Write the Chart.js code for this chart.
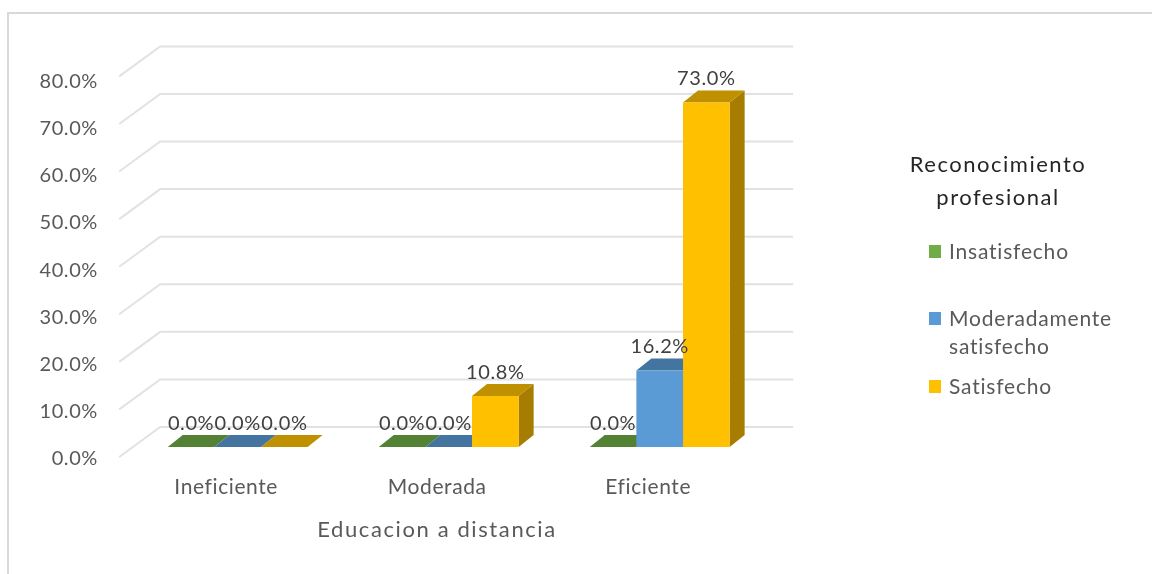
<!DOCTYPE html>
<html>
<head>
<meta charset="utf-8">
<style>
  html, body { margin: 0; padding: 0; background: #fff; overflow: hidden; }
</style>
<script src="https://cdn.jsdelivr.net/npm/chart.js"></script>
</head>
<body>
<canvas id="myChart" width="1152" height="574"></canvas>
<script>
//data
const categories = ['Ineficiente', 'Moderada', 'Eficiente'];
const insatisfecho = [0, 0, 0];
const moderado = [0, 0, 16.2];
const satisfecho = [0, 10.8, 73];
const seriesNames = ['Insatisfecho', 'Moderadamente satisfecho', 'Satisfecho'];
const yTicks = [0, 10, 20, 30, 40, 50, 60, 70, 80];
const legendTitle = ['Reconocimiento', 'profesional'];
const axisTitle = 'Educacion a distancia';

//colours: front, top, side of each bar
const fronts = ['#70AD47', '#5B9BD5', '#FFC000'];
const tops = ['#548235', '#4474A0', '#BF9000'];
const sides = ['#43682B', '#376187', '#A67D00'];

const FONT = 'Lato, Carlito, sans-serif';
const TEXT = '#595959';

//fake 3d depth
const BAR_DX = 15, BAR_DY = 12;
const WALL_DX = 28, WALL_DY = 20;
const FLOOR_DX = 13, FLOOR_DY = 10;

function poly(ctx, pts, color) {
  ctx.fillStyle = color;
  ctx.beginPath();
  pts.forEach((p, i) => i ? ctx.lineTo(p[0], p[1]) : ctx.moveTo(p[0], p[1]));
  ctx.closePath();
  ctx.fill();
}

//walls and bar sides go behind the flat bars chart.js draws
const behindBars = {
  id: 'behindBars',
  beforeDraw(chart) {
    //the original text is spaced out a bit, this also reaches the tick labels
    chart.ctx.letterSpacing = '0.6px';
  },
  beforeDatasetsDraw(chart) {
    const ctx = chart.ctx, y = chart.scales.y, area = chart.chartArea;
    ctx.save();
    ctx.strokeStyle = '#e2e2e2';
    ctx.lineWidth = 2;
    yTicks.forEach(t => {
      const py = y.getPixelForValue(t * 1.008);
      ctx.beginPath();
      ctx.moveTo(area.left - FLOOR_DX, py + FLOOR_DY);
      ctx.lineTo(area.left + WALL_DX, py - WALL_DY);
      ctx.lineTo(area.right + WALL_DX, py - WALL_DY);
      ctx.stroke();
    });
    categories.forEach((c, i) => {
      chart.data.datasets.forEach((ds, d) => {
        const bar = chart.getDatasetMeta(d).data[i];
        const half = bar.width / 2;
        const l = bar.x - half, r = bar.x + half;
        const t = bar.y, b = y.getPixelForValue(0);
        poly(ctx, [[r, t], [r + BAR_DX, t - BAR_DY], [r + BAR_DX, b - BAR_DY], [r, b]], sides[d]);
        poly(ctx, [[l, t], [l + BAR_DX, t - BAR_DY], [r + BAR_DX, t - BAR_DY], [r, t]], tops[d]);
      });
    });
    ctx.restore();
  }
};

//value labels, axis title and legend
const overlay = {
  id: 'overlay',
  afterDatasetsDraw(chart) {
    const ctx = chart.ctx;
    ctx.save();
    ctx.textBaseline = 'middle';
    ctx.textAlign = 'center';
    ctx.font = '20px ' + FONT;
    ctx.fillStyle = '#404040';
    chart.data.datasets.forEach((ds, d) => {
      chart.getDatasetMeta(d).data.forEach((bar, i) => {
        ctx.fillText(ds.data[i].toFixed(1) + '%', bar.x, bar.y - 23.5);
      });
    });

    ctx.font = '22px ' + FONT;
    ctx.letterSpacing = '1.6px';
    ctx.fillStyle = TEXT;
    ctx.fillText(axisTitle, 437, 530);

    ctx.letterSpacing = '1.5px';
    ctx.fillStyle = '#262626';
    legendTitle.forEach((line, i) => ctx.fillText(line, 998, 165 + i * 33));

    ctx.font = '21px ' + FONT;
    ctx.letterSpacing = '0.8px';
    ctx.textAlign = 'left';
    const rows = [[seriesNames[0]], ['Moderadamente', 'satisfecho'], [seriesNames[2]]];
    const rowY = [252, 319, 387];
    rows.forEach((lines, d) => {
      ctx.fillStyle = fronts[d];
      ctx.fillRect(929, rowY[d] - 7, 12, 13);
      ctx.fillStyle = TEXT;
      lines.forEach((line, i) => ctx.fillText(line, 949, rowY[d] + i * 28));
    });

    //chart frame
    ctx.strokeStyle = '#d9d9d9';
    ctx.lineWidth = 2;
    ctx.strokeRect(8, 13, 1200, 700);
    ctx.restore();
  }
};

const data = {
  labels: categories,
  datasets: [
    { label: seriesNames[0], data: insatisfecho, backgroundColor: fronts[0] },
    { label: seriesNames[1], data: moderado, backgroundColor: fronts[1] },
    { label: seriesNames[2], data: satisfecho, backgroundColor: fronts[2] }
  ]
};

const config = {
  type: 'bar',
  data,
  options: {
    responsive: false,
    animation: false,
    layout: { padding: { top: 69.4, right: 386.8, left: 0, bottom: 0 } },
    datasets: { bar: { barPercentage: 1, categoryPercentage: 0.663 } },
    plugins: { legend: { display: false }, tooltip: { enabled: false } },
    scales: {
      x: {
        grid: { display: false, drawTicks: false },
        border: { display: false },
        afterFit(s) { s.height = 127; },
        ticks: { color: TEXT, font: { family: FONT, size: 21 }, padding: 28, labelOffset: -11.5, maxRotation: 0 }
      },
      y: {
        min: 0,
        max: 80,
        grid: { display: false, drawTicks: false },
        border: { display: false },
        afterFit(s) { s.width = 132.2; },
        afterBuildTicks(s) { s.ticks = yTicks.map(v => ({ value: v })); },
        ticks: {
          color: TEXT,
          font: { family: FONT, size: 20 },
          padding: 34.2,
          labelOffset: 12,
          callback: v => v.toFixed(1) + '%'
        }
      }
    }
  },
  plugins: [behindBars, overlay]
};

const myChart = new Chart(document.getElementById('myChart'), config);
</script>
</body>
</html>
